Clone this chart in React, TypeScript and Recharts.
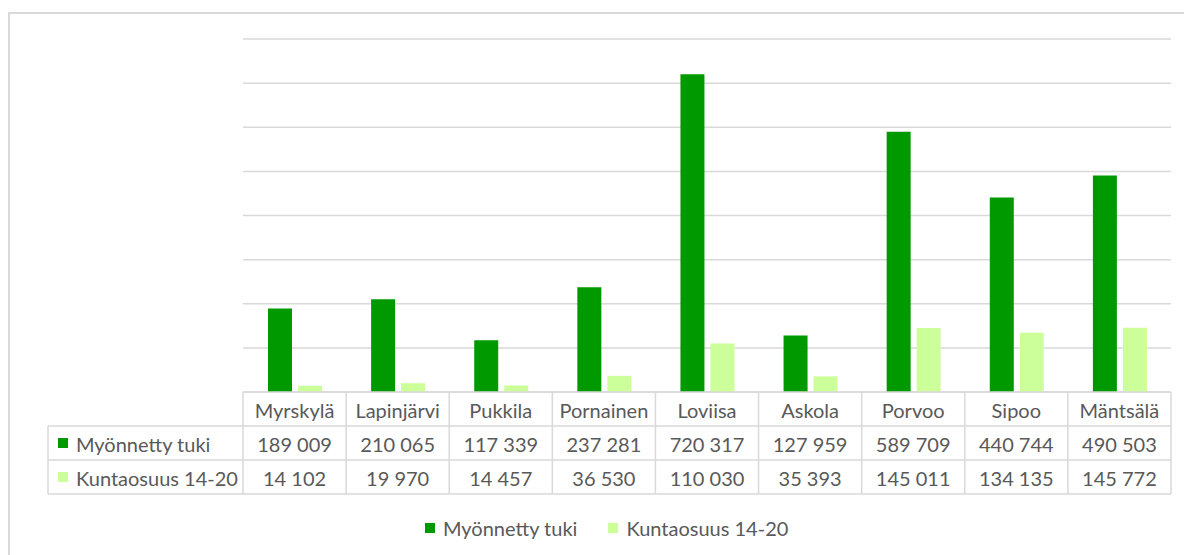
import { Bar, BarChart, CartesianGrid, XAxis, YAxis } from 'recharts'

const municipalities = ['Myrskylä', 'Lapinjärvi', 'Pukkila', 'Pornainen', 'Loviisa', 'Askola', 'Porvoo', 'Sipoo', 'Mäntsälä']
const grantedSupport = [189009, 210065, 117339, 237281, 720317, 127959, 589709, 440744, 490503]
const municipalShare = [14102, 19970, 14457, 36530, 110030, 35393, 145011, 134135, 145772]
const seriesNames = ['Myönnetty tuki', 'Kuntaosuus 14-20']
const seriesColors = ['#009900', '#CCFF99']
const yTicks = [0, 100000, 200000, 300000, 400000, 500000, 600000, 700000, 800000]

const data = municipalities.map((name, i) => ({
  name,
  tuki: grantedSupport[i],
  osuus: municipalShare[i],
}))

const W = 1184
const H = 555
const PLOT_LEFT = 243
const PLOT_RIGHT = 1171
const colW = (PLOT_RIGHT - PLOT_LEFT) / municipalities.length
const ROW_H = 34
const LABEL_X = 48
const FONT = 'Lato, "Open Sans", sans-serif'
const FS = 20
const TEXT = '#595959'
const BORDER = '#d9d9d9'

const fmt = (v: number) => String(v).replace(/\B(?=(\d{3})+(?!\d))/g, ' ')

function TableColumn(props: any) {
  const { x, y, index } = props
  const left = x - colW / 2
  const right = x + colW / 2
  const rows = [grantedSupport[index], municipalShare[index]]
  return (
    <g>
      <line x1={left} x2={right} y1={y} y2={y} stroke={BORDER} strokeWidth={1.5} />
      {[1, 2, 3].map((r) => (
        <line key={r} x1={left} x2={right} y1={y + r * ROW_H} y2={y + r * ROW_H} stroke={BORDER} strokeWidth={1.5} />
      ))}
      <line x1={left} x2={left} y1={y} y2={y + 3 * ROW_H} stroke={BORDER} strokeWidth={1.5} />
      {index === municipalities.length - 1 && (
        <line x1={right} x2={right} y1={y} y2={y + 3 * ROW_H} stroke={BORDER} strokeWidth={1.5} />
      )}
      <text x={x} y={y + ROW_H / 2 + 1} textAnchor="middle" dominantBaseline="central" fill={TEXT} fontSize={FS} fontFamily={FONT}>
        {municipalities[index]}
      </text>
      {rows.map((v, r) => (
        <text key={r} x={x} y={y + (r + 1.5) * ROW_H + 1} textAnchor="middle" dominantBaseline="central" fill={TEXT} fontSize={FS} fontFamily={FONT}>
          {fmt(v)}
        </text>
      ))}
      {index === 0 && (
        <g>
          {[1, 2, 3].map((r) => (
            <line key={r} x1={LABEL_X} x2={left} y1={y + r * ROW_H} y2={y + r * ROW_H} stroke={BORDER} strokeWidth={1.5} />
          ))}
          <line x1={LABEL_X} x2={LABEL_X} y1={y + ROW_H} y2={y + 3 * ROW_H} stroke={BORDER} strokeWidth={1.5} />
          {seriesNames.map((s, r) => (
            <g key={s}>
              <rect x={LABEL_X + 10} y={y + (r + 1.5) * ROW_H - 5} width={10} height={10} fill={seriesColors[r]} />
              <text x={LABEL_X + 28} y={y + (r + 1.5) * ROW_H + 1} dominantBaseline="central" fill={TEXT} fontSize={FS} fontFamily={FONT}>
                {s}
              </text>
            </g>
          ))}
        </g>
      )}
    </g>
  )
}

export default function App() {
  return (
    <div style={{ position: 'relative', width: W, height: H, overflow: 'hidden', background: '#fff' }}>
      <style>{'body{margin:0}'}</style>
      <div
        style={{
          position: 'absolute',
          left: 8,
          top: 12,
          width: W,
          height: H,
          borderTop: `2px solid ${BORDER}`,
          borderLeft: `2px solid ${BORDER}`,
        }}
      />
      <div style={{ position: 'absolute', left: 0, top: 0 }}>
        <BarChart
          width={W}
          height={H}
          data={data}
          margin={{ top: 39, right: W - PLOT_RIGHT, left: PLOT_LEFT, bottom: 53 }}
          barCategoryGap={25}
          barGap={6}
        >
          <CartesianGrid vertical={false} stroke={BORDER} strokeWidth={1.5} />
          <YAxis hide domain={[0, 800000]} ticks={yTicks} />
          <XAxis
            dataKey="name"
            height={110}
            axisLine={false}
            tickLine={false}
            tickSize={0}
            tickMargin={0}
            interval={0}
            tick={(p: any) => <TableColumn {...p} />}
          />
          <Bar dataKey="tuki" name={seriesNames[0]} fill={seriesColors[0]} isAnimationActive={false} />
          <Bar dataKey="osuus" name={seriesNames[1]} fill={seriesColors[1]} isAnimationActive={false} />
        </BarChart>
      </div>
      <div
        style={{
          position: 'absolute',
          left: 425,
          top: 516,
          display: 'flex',
          alignItems: 'center',
          fontFamily: FONT,
          fontSize: FS,
          color: TEXT,
        }}
      >
        {seriesNames.map((s, i) => (
          <div key={s} style={{ display: 'flex', alignItems: 'center', marginRight: 31 }}>
            <span style={{ width: 10, height: 10, background: seriesColors[i], marginRight: 8, display: 'inline-block' }} />
            <span>{s}</span>
          </div>
        ))}
      </div>
    </div>
  )
}
